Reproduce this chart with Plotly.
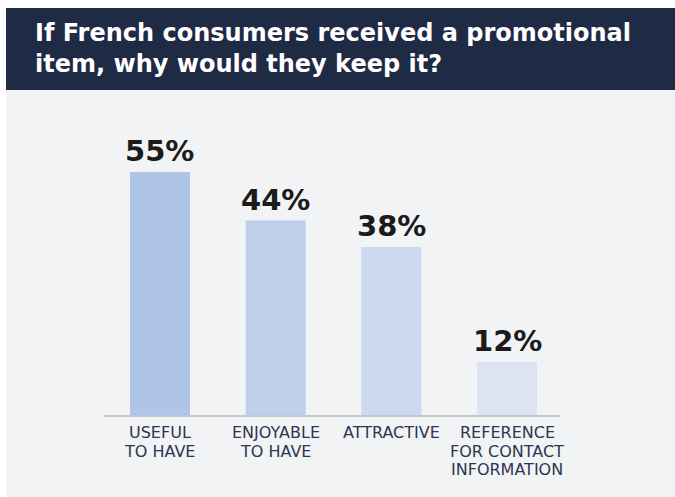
import plotly.graph_objects as go

# Survey results: reasons French consumers would keep a promotional item
categories = [["USEFUL", "TO HAVE"], ["ENJOYABLE", "TO HAVE"], ["ATTRACTIVE"],
              ["REFERENCE", "FOR CONTACT", "INFORMATION"]]
values = [55, 44, 38, 12]
value_labels = ["55%", "44%", "38%", "12%"]
bar_colors = ["#aec5e7", "#bdcfea", "#ccd9f0", "#dee3f4"]
title_text = "If French consumers received a promotional<br>item, why would they keep it?"

W, H = 675, 497
NAVY = "#1f2a45"
PANEL = "#f2f3f5"

fig = go.Figure()
fig.add_trace(go.Bar(
    x=list(range(len(values))),
    y=values,
    width=0.519,
    marker=dict(color=bar_colors, line=dict(width=0)),
    hoverinfo="skip",
))

# value labels above each bar
for i, (v, lab) in enumerate(zip(values, value_labels)):
    fig.add_annotation(
        x=i, y=v, xref="x", yref="y", text=f"<b>{lab}</b>",
        showarrow=False, xanchor="center", yanchor="bottom", yshift=2,
        font=dict(family="DejaVu Sans", size=29, color="#1b1b1b"),
    )

# category labels under the baseline, one line at a time
LINE_STEP = 18.5
for i, lines in enumerate(categories):
    for k, line in enumerate(lines):
        fig.add_annotation(
            x=i, y=0, xref="x", yref="y", text=line,
            showarrow=False, xanchor="center", yanchor="top",
            yshift=-6 - k * LINE_STEP,
            font=dict(family="DejaVu Sans", size=16, color="#2c3551"),
        )

# header band and light panel
fig.add_shape(type="rect", xref="paper", yref="paper",
              x0=6 / W, x1=1, y0=0, y1=1 - 90 / H,
              fillcolor=PANEL, line=dict(width=0), layer="below")
fig.add_shape(type="rect", xref="paper", yref="paper",
              x0=6 / W, x1=1, y0=1 - 90 / H, y1=1 - 8 / H,
              fillcolor=NAVY, line=dict(width=0), layer="below")

fig.add_annotation(
    x=33 / W, y=1 - 17 / H, xref="paper", yref="paper",
    text=f"<b>{title_text}</b>", showarrow=False, align="left",
    xanchor="left", yanchor="top",
    font=dict(family="DejaVu Sans", size=24, color="#ffffff"),
)

fig.update_layout(
    width=W, height=H,
    margin=dict(l=0, r=0, t=0, b=0),
    paper_bgcolor="#ffffff",
    plot_bgcolor="rgba(0,0,0,0)",
    showlegend=False,
    xaxis=dict(
        domain=[104 / W, 560 / W],
        range=[-0.484, 3.458],
        showticklabels=False,
        showline=True, linecolor="#c3c7cf", linewidth=2,
        showgrid=False, zeroline=False, ticks="",
        fixedrange=True,
    ),
    yaxis=dict(
        domain=[1 - 415 / H, 1 - 130 / H],
        range=[0, 64.5],
        visible=False,
        fixedrange=True,
    ),
)

fig.write_html("out.html")
